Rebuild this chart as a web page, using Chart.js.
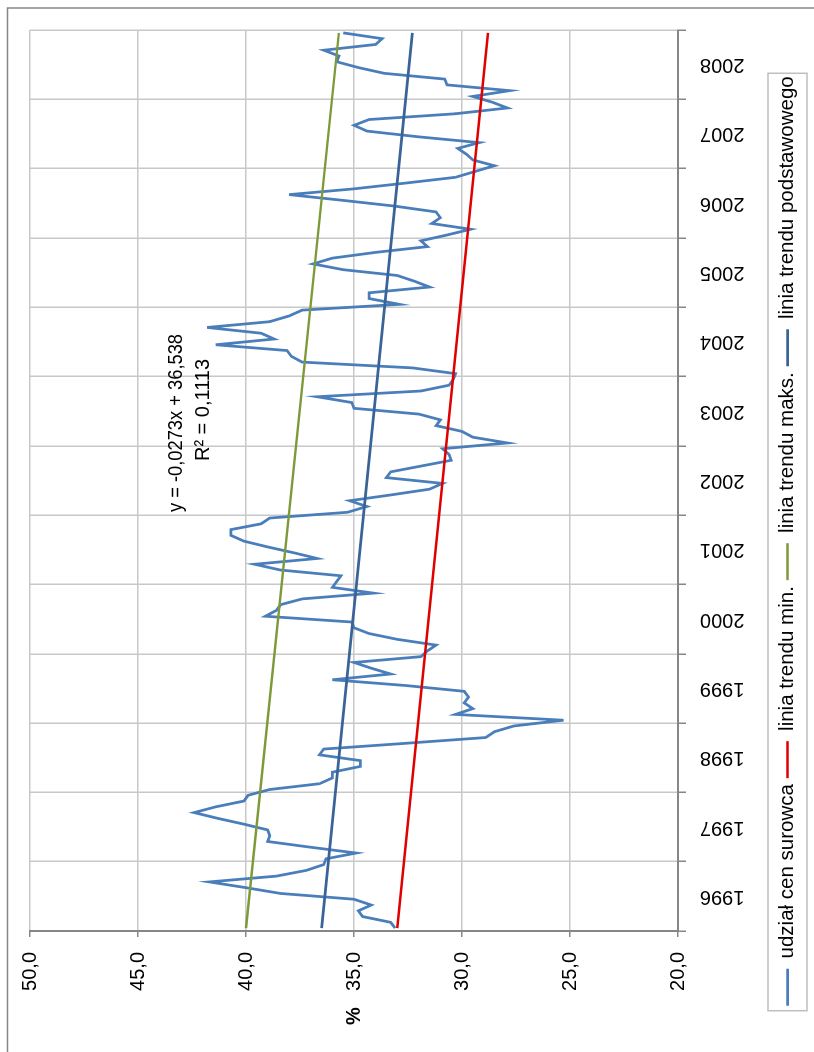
<!DOCTYPE html>
<html>
<head>
<meta charset="utf-8">
<script src="https://cdn.jsdelivr.net/npm/chart.js@4.4.1/dist/chart.umd.min.js"></script>
<style>
  html, body { margin: 0; padding: 0; background: #fff; overflow: hidden; }
  /* the chart is laid out landscape and then turned a quarter turn to the left */
  #wrap { position: absolute; left: 0; top: 0; width: 1052px; height: 814px;
          transform-origin: 0 0; transform: translateY(1052px) rotate(-90deg); }
</style>
</head>
<body>
<div id="wrap"><canvas id="chart" width="1052" height="814"></canvas></div>
<script>
const years = ['1996', '1997', '1998', '1999', '2000', '2001', '2002',
               '2003', '2004', '2005', '2006', '2007', '2008'];

// monthly share of raw material prices, %
const udzial = [
  33.1, 33.3, 34.6, 34.8, 34.2, 35.0, 38.4, 40.0, 41.7, 38.6, 37.2, 36.4,
  36.3, 34.9, 37.0, 39.0, 38.9, 39.0, 40.1, 41.3, 42.4, 41.4, 40.1, 39.9,
  38.9, 36.6, 36.0, 36.0, 34.7, 34.7, 36.6, 36.4, 32.6, 28.9, 28.5, 27.6,
  25.3, 30.3, 29.5, 29.9, 29.7, 29.9, 32.6, 36.0, 33.3, 34.2, 35.0, 31.9,
  31.6, 31.2, 33.0, 34.3, 35.0, 35.1, 39.1, 38.6, 38.4, 37.4, 34.1, 36.0,
  35.8, 35.6, 38.4, 39.6, 36.7, 37.8, 39.0, 40.1, 40.7, 40.7, 39.3, 38.9,
  35.3, 34.4, 35.2, 33.3, 31.5, 30.9, 33.5, 33.3, 31.9, 30.5, 30.6, 30.9,
  27.9, 29.5, 30.0, 31.2, 31.0, 32.0, 35.0, 35.1, 36.7, 31.9, 30.6, 30.4,
  30.3, 32.3, 37.4, 37.9, 38.1, 41.4, 38.7, 39.3, 41.8, 38.9, 38.0, 37.4,
  32.9, 34.3, 34.3, 31.5, 32.2, 33.0, 35.5, 36.9, 36.0, 34.0, 31.6, 31.9,
  30.7, 29.6, 31.4, 31.0, 31.2, 33.1, 35.5, 38.0, 35.0, 32.6, 30.3, 29.4,
  28.5, 29.5, 29.8, 30.2, 29.2, 32.0, 34.4, 35.0, 34.3, 30.3, 27.9, 28.6,
  29.5, 27.8, 30.7, 30.8, 33.6, 34.8, 35.8, 35.7, 36.4, 34.0, 33.7, 35.5
];

// trend lines: value at first month, value at last month
const trendMin = [33.0, 28.8];
const trendMaks = [40.0, 35.7];
const trendBase = [36.5, 32.3];

const eqLines = ['y = -0,0273x + 36,538', 'R² = 0,1113'];

const axisGray = '#868686';
const gridGray = '#c8c8c8';
const FONT = '"Liberation Sans", Arial, sans-serif';

Chart.defaults.font.family = FONT;
Chart.defaults.font.size = 20;
Chart.defaults.color = '#000';

const months = udzial.length;
const points = udzial.map((v, i) => ({ x: i + 0.5, y: v }));
const ends = arr => [{ x: 0.5, y: arr[0] }, { x: months - 0.5, y: arr[1] }];

const decor = {
  id: 'decor',
  afterDraw(chart) {
    const ctx = chart.ctx;
    const area = chart.chartArea;
    ctx.save();

    // outer frame
    ctx.strokeStyle = axisGray;
    ctx.lineWidth = 1.5;
    ctx.strokeRect(-10, 7.5, 1054, 840);

    // legend frame
    const hb = chart.legend.legendHitBoxes;
    if (hb && hb.length) {
      const last = hb[hb.length - 1];
      const cy = hb[0].top + hb[0].height / 2;
      const l = hb[0].left - 5, r = last.left + last.width + 3;
      ctx.strokeStyle = '#bfbfbf';
      ctx.lineWidth = 1.5;
      ctx.strokeRect(l, cy - 19.5, r - l, 39);
    }

    ctx.fillStyle = '#000';
    ctx.textAlign = 'center';
    ctx.textBaseline = 'middle';
    ctx.font = 'bold 20px ' + FONT;
    ctx.fillText('%', 36, (area.top + area.bottom) / 2);

    ctx.font = '20px ' + FONT;
    ctx.fillText(eqLines[0], 629, 176, 178);
    ctx.fillText(eqLines[1], 642, 203);
    ctx.restore();
  }
};

new Chart(document.getElementById('chart'), {
  type: 'line',
  data: {
    datasets: [
      { label: 'udział cen surowca', data: points, borderColor: '#4a7ebb',
        borderWidth: 2.75, order: 1 },
      { label: 'linia trendu min.', data: ends(trendMin), borderColor: '#e00000',
        borderWidth: 2.5 },
      { label: 'linia trendu maks.', data: ends(trendMaks), borderColor: '#7d9a3a',
        borderWidth: 2.5 },
      { label: 'linia trendu podstawowego', data: ends(trendBase), borderColor: '#3a6497',
        borderWidth: 2.75 }
    ]
  },
  options: {
    responsive: false,
    animation: false,
    devicePixelRatio: 1,
    elements: { point: { radius: 0 }, line: { tension: 0, fill: false } },
    layout: { padding: { left: 0, top: 30, right: 30, bottom: 6.25 } },
    plugins: {
      tooltip: { enabled: false },
      legend: {
        position: 'bottom',
        labels: {
          usePointStyle: true,
          pointStyle: 'line',
          pointStyleWidth: 37,
          padding: 6,
          font: { size: 20.5 },
          sort: (a, b) => a.datasetIndex - b.datasetIndex
        }
      }
    },
    scales: {
      x: {
        type: 'linear',
        min: 0,
        max: months,
        afterBuildTicks: s => {
          s.ticks = [];
          for (let k = 0; k <= years.length * 2; k++) s.ticks.push({ value: k * 6 });
        },
        ticks: {
          autoSkip: false, minRotation: 90, maxRotation: 90, padding: 14,
          callback: v => (v % 12 === 6 ? years[(v - 6) / 12] : '')
        },
        grid: {
          color: c => (c.tick && c.tick.value % 12 === 0 ? gridGray : 'rgba(0,0,0,0)'),
          tickColor: c => (c.tick && c.tick.value % 12 === 0 ? axisGray : 'rgba(0,0,0,0)'),
          tickLength: 8,
          lineWidth: 1.5
        },
        border: { color: axisGray, width: 2 },
        afterFit: s => {
          s.height = 93.25;
          s.paddingLeft = 0;
          s.paddingRight = 0;
        }
      },
      y: {
        min: 20,
        max: 50,
        ticks: {
          stepSize: 5, padding: 15,
          callback: v => v.toFixed(1).replace('.', ',')
        },
        grid: { color: gridGray, tickColor: axisGray, tickLength: 6, lineWidth: 1.5 },
        border: { color: axisGray, width: 2 },
        afterFit: s => {
          s.width = 121;
          s.paddingTop = 0;
          s.paddingBottom = 0;
        }
      }
    }
  },
  plugins: [decor]
});
</script>
</body>
</html>
